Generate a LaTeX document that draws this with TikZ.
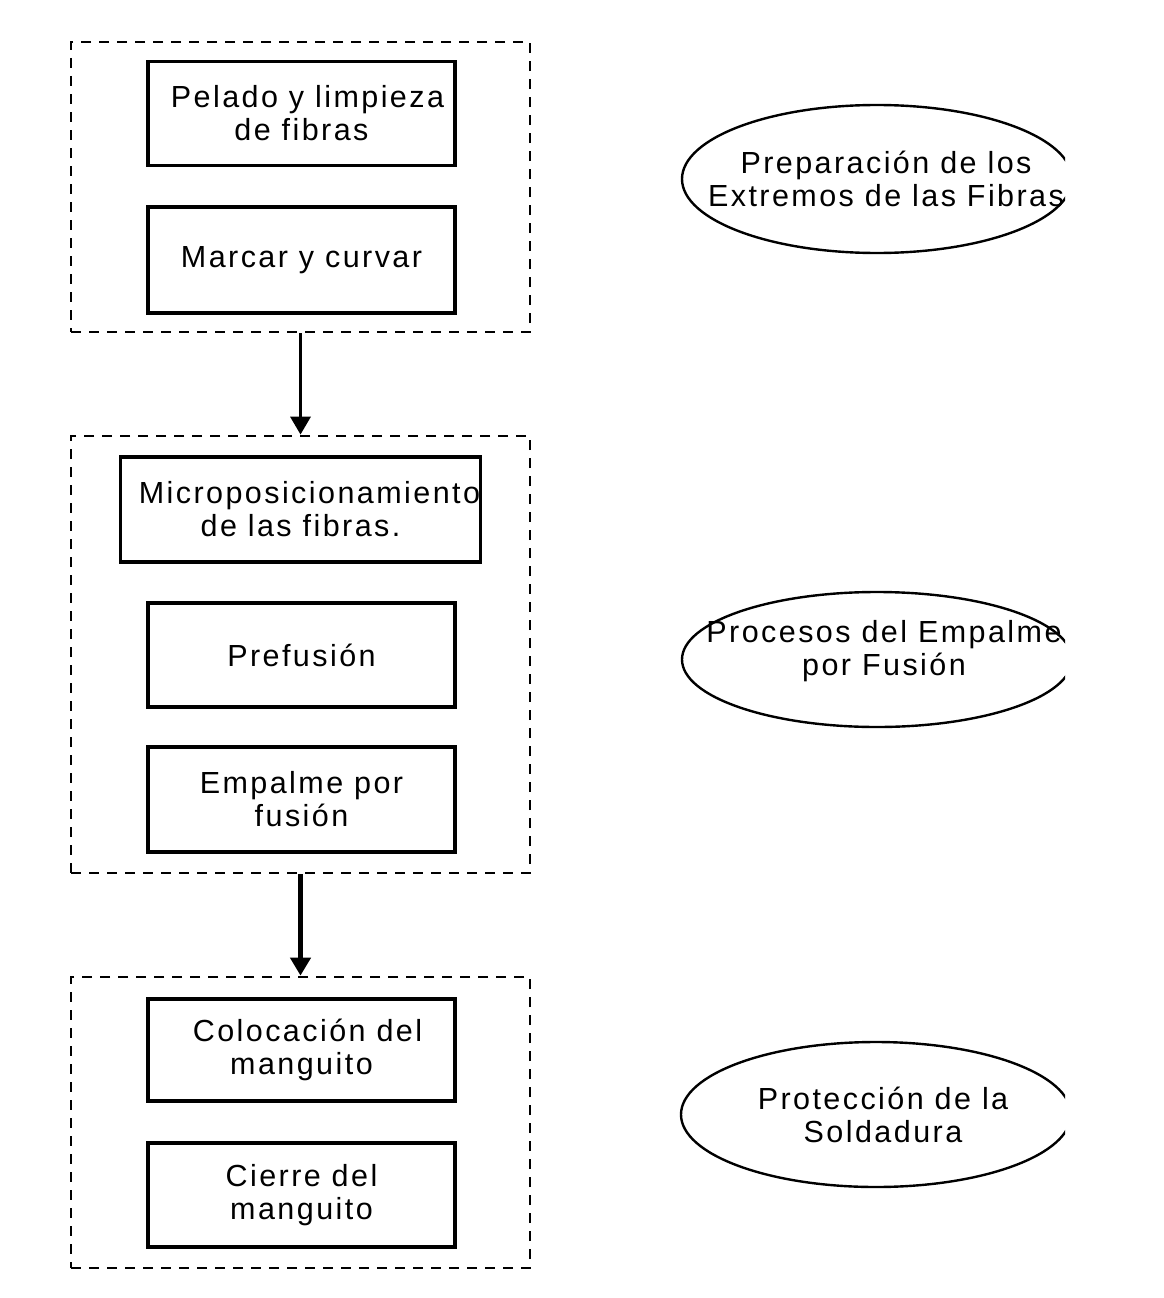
\documentclass[tikz,border=0pt]{standalone}
\usepackage{fontspec}
\newfontfamily\flowfont[LetterSpace=8]{Liberation Sans}
\usetikzlibrary{shapes.geometric,arrows.meta}

\begin{document}
\begin{tikzpicture}[x=1pt,y=-1pt,line width=3.2pt,
  every node/.style={font={\flowfont\fontsize{30.5}{33}\selectfont},inner sep=0pt,align=center},
  stage/.style={draw,dash pattern=on 10pt off 8pt,line width=2.8pt,minimum width=459pt},
  task/.style={draw,minimum width=307pt,minimum height=104pt},
  oval/.style={draw,ellipse,line width=2.4pt,minimum width=390pt},
  flow/.style={-{Triangle[width=20pt,length=18pt]}}]
  \useasboundingbox (0,0) rectangle (1164,1298);
  % first stage
  \node[stage,minimum height=290pt] (prep) at (300.5,187) {};
  \node[task] (pelado) at (301.5,113.5) {\hspace*{12pt}Pelado y limpieza\\de fibras};
  \node[task,minimum height=106pt] (marcar) at (301.5,260) {Marcar y curvar};
  % second stage
  \node[stage,minimum height=437pt] (fusion) at (300.5,654.5) {};
  \node[task,minimum width=359pt,minimum height=105pt] (micro) at (300.5,509.5) {\hspace*{18pt}Microposicionamiento\\de las fibras.};
  \node[task] (prefus) at (301.5,655) {Prefusión};
  \node[task,minimum height=105pt] (empalme) at (301.5,799.5) {Empalme por\\fusión};
  % third stage
  \node[stage,minimum height=291pt] (protec) at (300.5,1122.5) {};
  \node[task,minimum height=102pt] (coloc) at (301.5,1050) {\hspace*{12pt}Colocación del\\manguito};
  \node[task] (cierre) at (301.5,1195) {Cierre del\\manguito};
  \draw[flow,line width=3.5pt] (prep.south) -- (fusion.north);
  \draw[flow,line width=5pt] (fusion.south) -- (protec.north);
  % notes on the right, cut at the frame edge
  \begin{scope}
    \clip (0,0) rectangle (1065,1298);
    \node[oval,minimum height=148pt,label={[xshift=9pt]center:Preparación de los\\Extremos de las Fibras}] (extremos) at (877,179) {};
    \node[oval,minimum height=135pt,label={[xshift=7pt,yshift=8pt]center:Procesos del Empalme\\por Fusión}] (procesos) at (877,659.5) {};
    \node[oval,minimum height=145pt,label={[xshift=7pt]center:Protección de la\\Soldadura}] (soldadura) at (876,1114.5) {};
  \end{scope}
\end{tikzpicture}
\end{document}
